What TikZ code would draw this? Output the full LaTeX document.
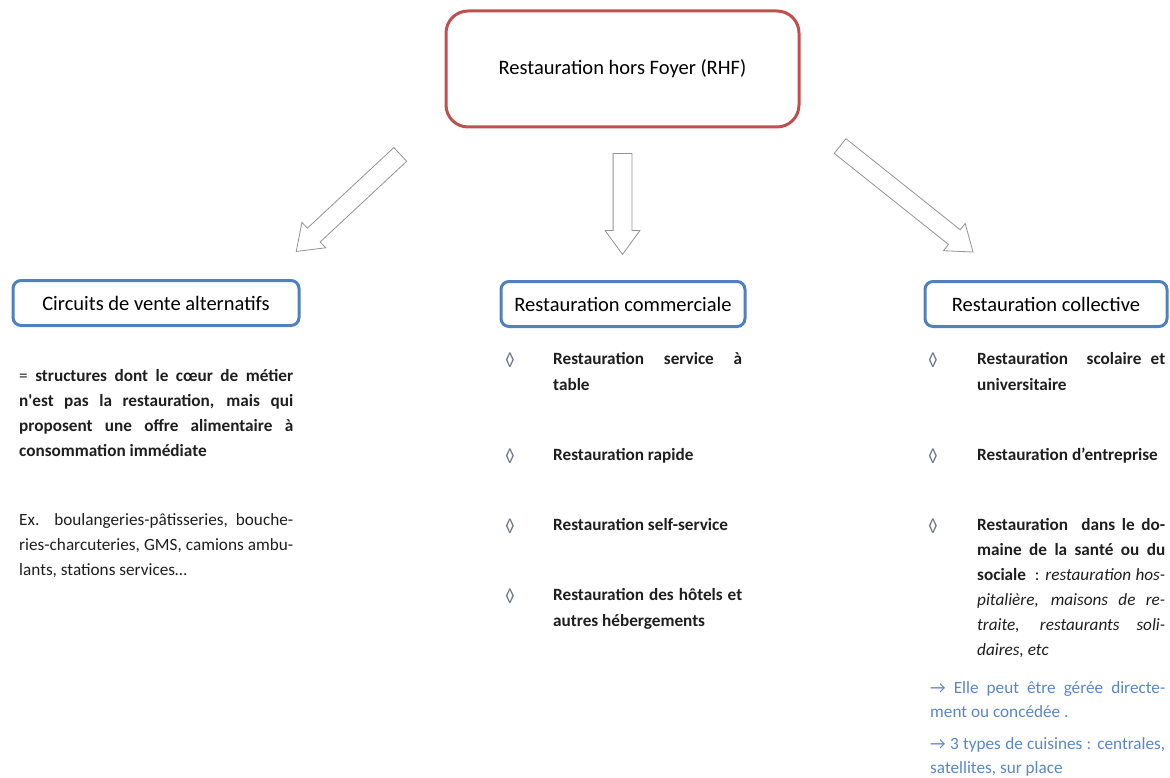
\documentclass[tikz,border=0pt]{standalone}
\usepackage{fontspec}
\setmainfont{Carlito}
\usetikzlibrary{shapes.arrows,calc}

\definecolor{rhfred}{HTML}{C0504D}
\definecolor{catblue}{HTML}{4F81BD}
\definecolor{noteblue}{HTML}{5A86C8}
\definecolor{inkgray}{HTML}{1E1E1E}
\definecolor{bulletgray}{HTML}{6E7480}

\tikzset{
  rhfbox/.style={draw=rhfred, line width=3pt, rounded corners=22pt, minimum width=353pt, minimum height=116pt, font=\fontsize{20.5}{24}\selectfont},
  catbox/.style={draw=catblue, line width=3pt, rounded corners=8pt, minimum height=45pt, font=\fontsize{20.5}{24}\selectfont},
  bodytext/.style={inner sep=0pt, anchor=north west, align=justify, text=inkgray, font=\fontsize{17.2}{25}\selectfont},
  bullet/.style={inner sep=0pt, anchor=base, text=bulletgray, font=\fontsize{19}{20}\selectfont},
  blockarrow/.style={single arrow, draw=gray!85, line width=0.8pt, fill=white, inner xsep=0pt, inner ysep=9pt, single arrow head extend=8pt, single arrow tip angle=72}
}

\begin{document}
\begin{tikzpicture}[x=1pt, y=-1pt]
    \useasboundingbox (0,0) rectangle (1170,778);
    % top box
    \node [rhfbox] (rhf) at (622.5,69) {Restauration hors Foyer (RHF)};
    % three categories
    \node [catbox, minimum width=286pt] (circ) at (156,303) {Circuits de vente alternatifs};
    \node [catbox, minimum width=244pt] (comm) at (623,304) {Restauration commerciale};
    \node [catbox, minimum width=242pt] (coll) at (1046,304) {Restauration collective};
    % hollow arrows
    \coordinate (circin) at (405,150);
    \coordinate (circout) at (301,247);
    \coordinate (commin) at (622.5,147);
    \coordinate (commout) at (622.5,248);
    \coordinate (collin) at (835,142);
    \coordinate (collout) at (968,248);
    \path let \p1=($(circout)-(circin)$), \n1={atan2(\y1,\x1)}, \n2={veclen(\x1,\y1)} in
        node [blockarrow, minimum height=\n2, rotate=\n1] (circarrow) at ($(circin)!0.5!(circout)$) {};
    \path let \p1=($(commout)-(commin)$), \n1={atan2(\y1,\x1)}, \n2={veclen(\x1,\y1)} in
        node [blockarrow, minimum height=\n2, rotate=\n1] (commarrow) at ($(commin)!0.5!(commout)$) {};
    \path let \p1=($(collout)-(collin)$), \n1={atan2(\y1,\x1)}, \n2={veclen(\x1,\y1)} in
        node [blockarrow, minimum height=\n2, rotate=\n1] (collarrow) at ($(collin)!0.5!(collout)$) {};
    % circuits de vente alternatifs
    \node [bodytext, text width=274pt] (circdef) at (19,369.5)
        {= \textbf{structures dont le cœur de métier\linebreak n\textquotesingle est pas la restauration, mais qui\linebreak proposent une offre alimentaire à\linebreak consommation immédiate}};
    \node [bodytext, text width=274pt] (circex) at (19,513)
        {Ex. boulangeries-pâtisseries, bouche-\linebreak ries-charcuteries, GMS, camions ambu-\linebreak lants, stations services…};
    % restauration commerciale
    \node [bullet] (cb1) at (510,366) {◊};
    \node [bodytext, text width=189pt, font=\fontsize{17.2}{26}\bfseries] (ci1) at (553,352) {Restauration service à\linebreak table};
    \node [bullet] (cb2) at (510,462) {◊};
    \node [bodytext, text width=189pt, font=\fontsize{17.2}{26}\bfseries] (ci2) at (553,448) {Restauration rapide};
    \node [bullet] (cb3) at (510,532) {◊};
    \node [bodytext, text width=189pt, font=\fontsize{17.2}{26}\bfseries] (ci3) at (553,518) {Restauration self-service};
    \node [bullet] (cb4) at (510,602) {◊};
    \node [bodytext, text width=189pt, font=\fontsize{17.2}{26}\bfseries] (ci4) at (553,588) {Restauration des hôtels et\linebreak autres hébergements};
    % restauration collective
    \node [bullet] (lb1) at (933,366) {◊};
    \node [bodytext, text width=188pt, font=\fontsize{17.2}{26}\bfseries] (li1) at (977,352) {Restauration\ \ scolaire et\linebreak universitaire};
    \node [bullet] (lb2) at (933,462) {◊};
    \node [bodytext, text width=188pt, font=\fontsize{17.2}{26}\bfseries] (li2) at (977,448) {Restauration d’entreprise};
    \node [bullet] (lb3) at (933,532) {◊};
    \node [bodytext, text width=188pt] (li3) at (977,518)
        {\textbf{Restauration\ \ dans le do-\linebreak maine de la santé ou du\linebreak sociale}\ \ : \textit{restauration hos-\linebreak pitalière, maisons de re-\linebreak traite, restaurants soli-\linebreak daires, etc}};
    \node [bodytext, text width=235pt, text=noteblue, font=\fontsize{17.2}{24}\selectfont] (lnote1) at (930,681)
        {→ Elle peut être gérée directe-\linebreak ment ou concédée .};
    \node [bodytext, text width=235pt, text=noteblue, font=\fontsize{17.2}{24}\selectfont] (lnote2) at (930,737)
        {→ 3 types de cuisines : centrales,\linebreak satellites, sur place};
\end{tikzpicture}
\end{document}
